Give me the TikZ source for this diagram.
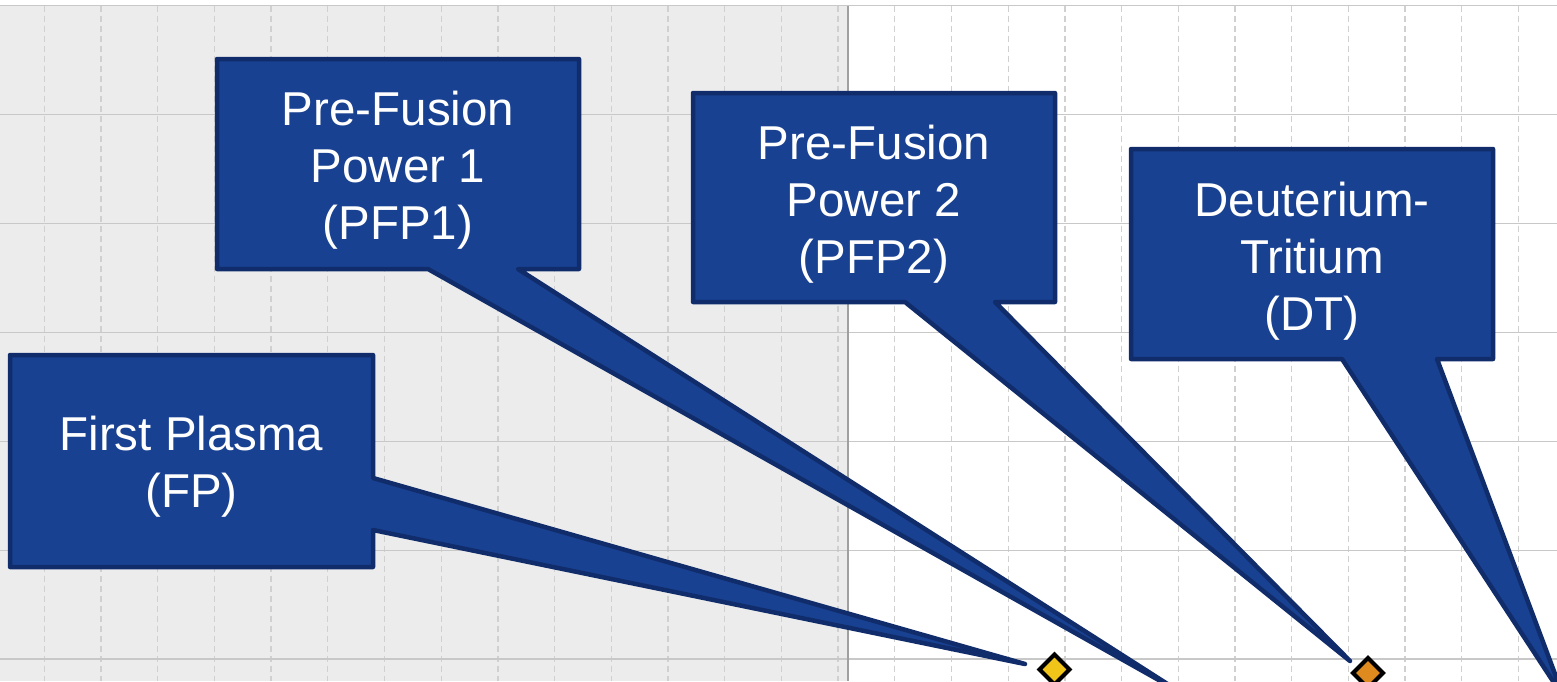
\documentclass[tikz,border=0pt]{standalone}
\usepackage{fontspec}
\setmainfont{Liberation Sans}
\definecolor{calfill}{RGB}{25,65,145}
\definecolor{caledge}{RGB}{16,44,106}
\definecolor{gridh}{RGB}{200,200,200}
\definecolor{gridv}{RGB}{208,208,208}
\definecolor{bgshade}{RGB}{236,236,236}
\definecolor{mkyellow}{RGB}{240,196,25}
\definecolor{mkorange}{RGB}{222,138,30}
\tikzset{
  callout/.style={fill=calfill, draw=caledge, line width=4.5pt, line join=round},
  caltext/.style={text=white, align=center, font=\fontsize{47.5}{57}\selectfont, inner sep=0pt},
  hline/.style={draw=gridh, line width=1.4pt},
  vline/.style={draw=gridv, line width=1.3pt, dash pattern=on 6pt off 4pt},
  marker/.style={draw=black, line width=4pt, line join=miter},
}
\begin{document}
\begin{tikzpicture}[x=1pt,y=-1pt]
\useasboundingbox (0,0) rectangle (1557,681);
\clip (0,0) rectangle (1557,681);
\fill[white] (0,0) rectangle (1557,681);
\fill[bgshade] (0,5.7) rectangle (848,681);
% vertical dashed grid
\foreach \i in {0,...,26} {
  \draw[vline] ({44.3+56.7*\i},5.7) -- ({44.3+56.7*\i},681);
}
% horizontal grid
\foreach \j in {0,...,6} {
  \draw[hline] (0,{5.7+108.9*\j}) -- (1557,{5.7+108.9*\j});
}
\draw[draw=gridh!80!black, line width=1.2pt] (848,5.7) -- (848,681);

% tips
\coordinate (tipFP) at (1025,664);
\coordinate (tipP1) at (1180,692);
\coordinate (tipP2) at (1350,661);
\coordinate (tipDT) at (1564,698);

% callouts
\draw[callout] (10,355) -- (373,355) -- (373,478) -- (tipFP) -- (373,530) -- (373,567) -- (10,567) -- cycle;
\draw[callout] (217,59) -- (579,59) -- (579,269) -- (518,269) -- (tipP1) -- (428,269) -- (217,269) -- cycle;
\draw[callout] (693,93) -- (1055,93) -- (1055,302) -- (995,302) -- (tipP2) -- (905,302) -- (693,302) -- cycle;
\draw[callout] (1131,149) -- (1493,149) -- (1493,359) -- (1437,359) -- (tipDT) -- (1342,359) -- (1131,359) -- cycle;

\node[caltext] (fp) at (191.5,467) {First Plasma\\(FP)};
\node[caltext] (pfp1) at (398,170) {Pre-Fusion\\Power 1\\(PFP1)};
\node[caltext] (pfp2) at (874,204) {Pre-Fusion\\Power 2\\(PFP2)};
\node[caltext] (dt) at (1312,261) {Deuterium-\\Tritium\\(DT)};

% markers
\coordinate (m1) at (1054.5,669.5);
\coordinate (m2) at (1368,673);
\draw[marker, fill=mkyellow] ([yshift=-15]m1) -- ([xshift=15]m1) -- ([yshift=15]m1) -- ([xshift=-15]m1) -- cycle;
\draw[marker, fill=mkorange] ([yshift=-15]m2) -- ([xshift=15]m2) -- ([yshift=15]m2) -- ([xshift=-15]m2) -- cycle;
\end{tikzpicture}
\end{document}
